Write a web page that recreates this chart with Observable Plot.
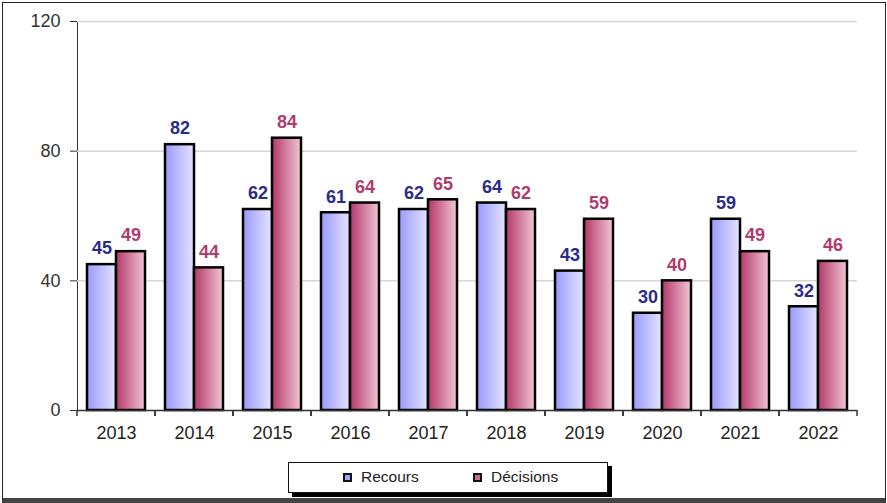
<!DOCTYPE html>
<html>
<head>
<meta charset="utf-8">
<script src="https://cdn.jsdelivr.net/npm/d3@7"></script>
<script src="https://cdn.jsdelivr.net/npm/@observablehq/plot@0.6"></script>
<style>
  html, body { margin: 0; padding: 0; background: #fff; }
  #wrap { position: relative; width: 887px; height: 503px; overflow: hidden; font-family: Arial, "Liberation Sans", sans-serif; }
  #frame { position: absolute; left: 2px; top: 2px; right: 1px; bottom: 0; border: 1.5px solid #222; border-bottom: 5px solid #444; pointer-events: none; }
  #chart { position: absolute; left: 0; top: 0; }
  #legend { position: absolute; left: 288px; top: 462px; width: 318px; height: 29px; border: 1.5px solid #111; box-shadow: 4px 4px 0 #000; background: #fff; font-size: 15.5px; color: #222; }
  .item { position: absolute; top: 5px; display: flex; align-items: center; }
  .sw { width: 5px; height: 5px; border: 2px solid #111; margin-right: 9px; }
</style>
</head>
<body>
<div id="wrap">
  <div id="chart"></div>
  <div id="legend">
    <div class="item" style="left:54px"><div class="sw" style="background:#a4a4ff"></div>Recours</div>
    <div class="item" style="left:184px"><div class="sw" style="background:#c47090"></div>Décisions</div>
  </div>
  <div id="frame"></div>
</div>
<script>
const years = ["2013","2014","2015","2016","2017","2018","2019","2020","2021","2022"];
const series = ["Recours","Décisions"];
const recours = [45,82,62,61,62,64,43,30,59,32];
const decisions = [49,44,84,64,65,62,59,40,49,46];
const yTicks = [0,40,80,120];

const data = years.flatMap((year, i) => [
  {year, series: "Recours", value: recours[i]},
  {year, series: "Décisions", value: decisions[i]}
]);
const rec = data.filter(d => d.series === "Recours");
const dec = data.filter(d => d.series === "Décisions");

const font = "Arial, 'Liberation Sans', sans-serif";

const boundaryTicks = (index, scales, values, dimensions) => {
  const r = scales.x && scales.x.range ? scales.x.range() : [dimensions.marginLeft, dimensions.width - dimensions.marginRight];
  const y0 = scales.y(0);
  const g = d3.create("svg:g").attr("stroke", "#333").attr("stroke-width", 1.5);
  for (const x of r) g.append("line").attr("x1", x).attr("x2", x).attr("y1", y0).attr("y2", y0 + 6);
  return g.node();
};

const chart = Plot.plot({
  width: 887,
  height: 450,
  marginLeft: 75,
  marginRight: 29,
  marginTop: 21,
  marginBottom: 40,
  style: {fontFamily: font, fontSize: "18px", background: "transparent", color: "#333"},
  fx: {domain: years, padding: 0, label: null, axis: null},
  x: {domain: series, paddingInner: 0, paddingOuter: 0.33, axis: null},
  y: {domain: [0, 120], ticks: yTicks, tickSize: 7, tickPadding: 10, line: true, label: null},
  marks: [
    Plot.gridY([40, 80, 120], {stroke: "#d6d6d6", strokeOpacity: 1, strokeWidth: 1.5}),
    Plot.barY(rec, {fx: "year", x: "series", y: "value", fill: "url(#gradR)", stroke: "#000", strokeWidth: 2.5}),
    Plot.barY(dec, {fx: "year", x: "series", y: "value", fill: "url(#gradD)", stroke: "#000", strokeWidth: 2.5}),
    Plot.text(rec, {fx: "year", x: "series", y: "value", text: d => String(d.value), dy: -16, fill: "#2b2b8c", fontSize: 18, fontWeight: "bold"}),
    Plot.text(dec, {fx: "year", x: "series", y: "value", text: d => String(d.value), dy: -16, fill: "#b03c6c", fontSize: 18, fontWeight: "bold"}),
    Plot.ruleY([0], {stroke: "#333", strokeWidth: 1.5}),
    boundaryTicks,
    Plot.axisFx({anchor: "bottom", tickSize: 0, tickPadding: 16, fontSize: 18, fill: "#222", label: null})
  ]
});

const svg = d3.select(chart);
const defs = svg.insert("defs", ":first-child");
const gr = defs.append("linearGradient").attr("id", "gradR").attr("x1", "0%").attr("x2", "100%").attr("y1", "0%").attr("y2", "0%");
gr.append("stop").attr("offset", "0%").attr("stop-color", "#9a9aff");
gr.append("stop").attr("offset", "100%").attr("stop-color", "#e4e4ff");
const gd = defs.append("linearGradient").attr("id", "gradD").attr("x1", "0%").attr("x2", "100%").attr("y1", "0%").attr("y2", "0%");
gd.append("stop").attr("offset", "0%").attr("stop-color", "#b3386a");
gd.append("stop").attr("offset", "100%").attr("stop-color", "#f2c6d6");

document.getElementById("chart").appendChild(chart);
</script>
</body>
</html>
